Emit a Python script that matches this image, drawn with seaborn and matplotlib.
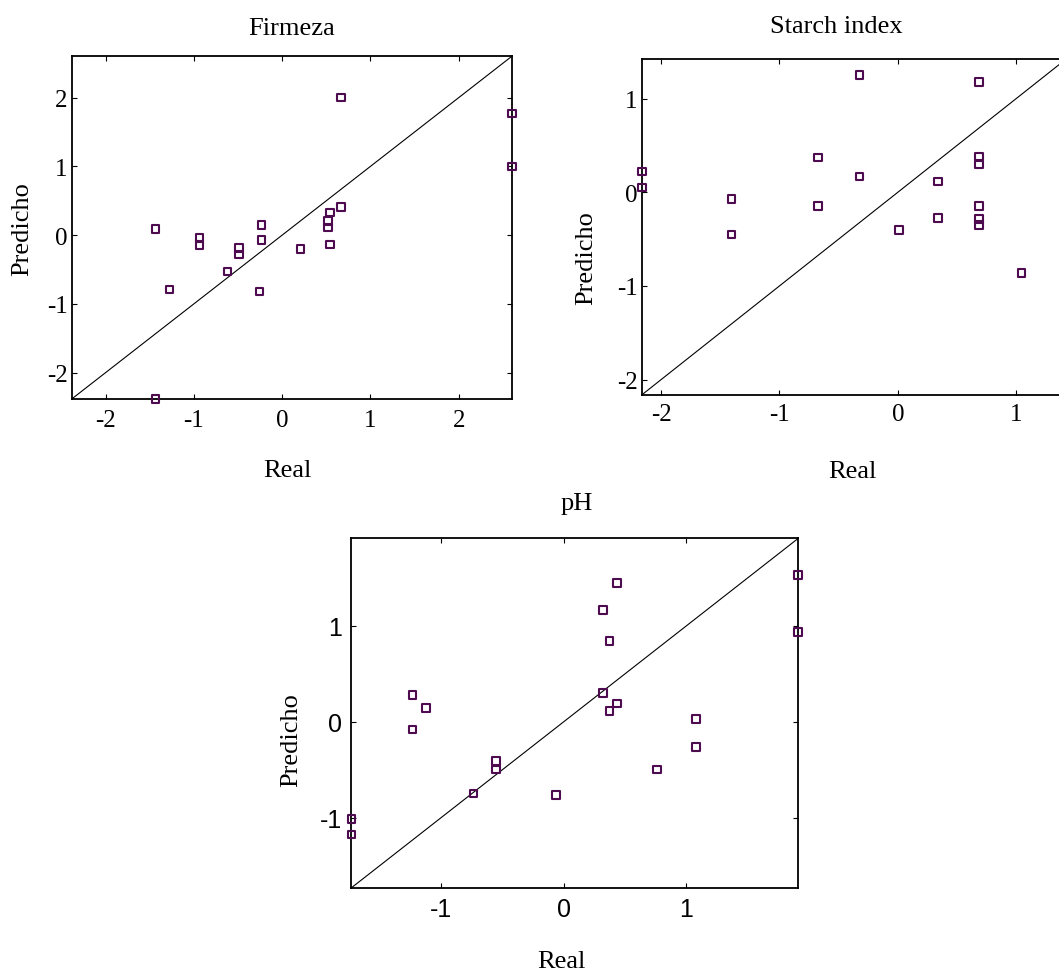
import matplotlib
matplotlib.use("Agg")
import matplotlib.pyplot as plt
import seaborn as sns

# Values (standardised real vs predicted)
firmeza_real = [0.67, 2.6, 2.6, 0.67, 0.544, 0.517, 0.517, 0.544, 0.207, -0.234,
                -0.234, -0.257, -0.49, -0.49, -0.617, -0.935, -0.935, -1.433, -1.276, -1.433]
firmeza_pred = [2.0, 1.77, 1.0, 0.41, 0.33, 0.21, 0.11, -0.136, -0.20, 0.145,
                -0.073, -0.82, -0.19, -0.28, -0.53, -0.04, -0.145, 0.087, -0.79, -2.38]

starch_real = [-0.325, 0.686, -0.675, -0.325, -2.163, -2.163, -1.406, -1.406, -0.675,
               0.342, 0.342, 0.01, 0.686, 0.686, 0.686, 0.686, 0.686, 1.045]
starch_pred = [1.255, 1.18, 0.37, 0.17, 0.22, 0.053, -0.075, -0.45, -0.146,
               0.117, -0.274, -0.40, 0.384, 0.295, -0.146, -0.288, -0.348, -0.86]

ph_real = [0.436, 0.32, 0.372, 1.91, 1.91, -1.23, -1.119, -1.23, 0.32, 0.436,
           0.372, 1.078, 1.078, 0.759, -0.549, -0.549, -0.735, -0.064, -1.727, -1.727]
ph_pred = [1.444, 1.163, 0.844, 1.528, 0.9375, 0.278, 0.146, -0.08, 0.299, 0.191,
           0.111, 0.028, -0.264, -0.497, -0.41, -0.497, -0.747, -0.764, -1.014, -1.174]

firmeza_lim = (-2.383, 2.60)
starch_lim = (-2.165, 1.423)
ph_lim = (-1.733, 1.91)

firmeza_ticks = [-2, -1, 0, 1, 2]
starch_ticks = [-2, -1, 0, 1]
ph_ticks = [-1, 0, 1]

sns.set_style("ticks")
plt.rcParams["font.family"] = ["Liberation Serif", "DejaVu Serif"]
plt.rcParams["xtick.direction"] = "in"
plt.rcParams["ytick.direction"] = "in"
plt.rcParams["xtick.top"] = True
plt.rcParams["ytick.right"] = True
plt.rcParams["text.color"] = "black"
plt.rcParams["axes.labelcolor"] = "black"
plt.rcParams["xtick.color"] = "black"
plt.rcParams["ytick.color"] = "black"
plt.rcParams["axes.edgecolor"] = "black"

purple = "#4f0b4f"
serif = "Liberation Serif"
sans = "Liberation Sans"

fig = plt.figure(figsize=(10.59, 9.79), dpi=100)


def panel(rect, real, pred, lim, ticks, title, title_x, title_pad,
          ylab_pos, xlab_pos, tick_font, xpad, ypad):
    ax = fig.add_axes(rect)
    sns.scatterplot(x=real, y=pred, ax=ax, marker="s", s=30,
                    facecolor="none", edgecolor=purple, linewidth=1.5,
                    zorder=3, clip_on=False)
    ax.axline((0, 0), slope=1, color="black", linewidth=0.8)
    ax.set_xlim(lim)
    ax.set_ylim(lim)
    ax.set_xticks(ticks)
    ax.set_yticks(ticks)
    ax.set_xticklabels([str(t) for t in ticks])
    ax.set_yticklabels([str(t) for t in ticks])
    for lab in ax.get_xticklabels() + ax.get_yticklabels():
        lab.set_family(tick_font)
        lab.set_fontsize(18)
    ax.tick_params(axis="both", length=3.5, width=0.8)
    ax.tick_params(axis="x", pad=xpad)
    ax.tick_params(axis="y", pad=ypad)
    for sp in ax.spines.values():
        sp.set_linewidth(1.3)
    ax.set_title(title, family=serif, fontsize=19, x=title_x, pad=title_pad)
    ax.set_xlabel("Real", family=serif, fontsize=19, va="baseline")
    ax.set_ylabel("Predicho", family=serif, fontsize=19, va="center")
    ax.xaxis.set_label_coords(*xlab_pos)
    ax.yaxis.set_label_coords(*ylab_pos)
    return ax


panel([0.0677, 0.5914, 0.4155, 0.3500], firmeza_real, firmeza_pred, firmeza_lim,
      firmeza_ticks, "Firmeza", 0.5, 16, (-0.112, 0.5), (0.49, -0.225), serif, 7, 3)

panel([0.6059, 0.5955, 0.4009, 0.3432], starch_real, starch_pred, starch_lim,
      starch_ticks, "Starch index", 0.459, 19.5, (-0.130, 0.41), (0.497, -0.244), serif, 5.5, 3)

panel([0.3312, 0.0916, 0.4226, 0.3575], ph_real, ph_pred, ph_lim,
      ph_ticks, "pH", 0.505, 21, (-0.132, 0.427), (0.47, -0.226), sans, 6.5, 6)

fig.savefig("out.png", dpi=100)
